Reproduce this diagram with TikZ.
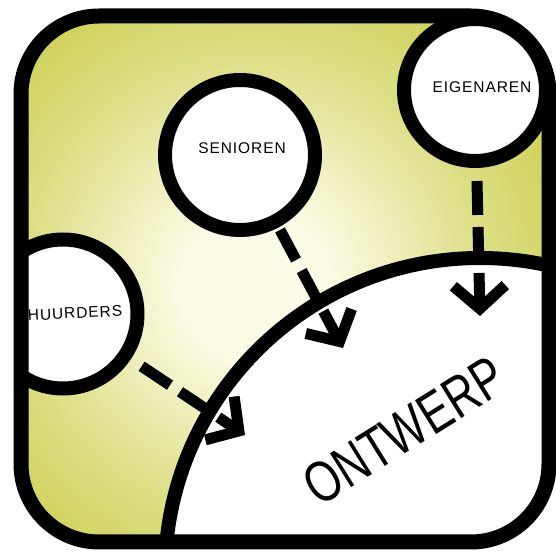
\documentclass[tikz,border=0pt]{standalone}
\usepackage{fontspec}
\setmainfont{Liberation Sans}
\newfontfamily\lblfont[LetterSpace=6]{Liberation Sans}
\usetikzlibrary{arrows.meta}
\definecolor{olijf}{HTML}{C6CA3E}
\definecolor{creme}{HTML}{FCFBE6}
\pgfdeclareradialshading{gloed}{\pgfpoint{0bp}{0bp}}{%
  color(0bp)=(creme); color(4bp)=(creme); color(12bp)=(olijf!55!creme);
  color(21bp)=(olijf); color(50bp)=(olijf)}
\tikzset{
  groep/.style={circle,draw=black,line width=14pt,fill=white,inner sep=0pt},
  etiket/.style={font=\lblfont\fontsize{15.5}{16}\selectfont,inner sep=0pt},
  darr/.style={line width=11pt,dash pattern=on 34pt off 12pt,-{Straight Barb[length=23pt,width=52pt]}},
  kader/.style={line width=15pt,rounded corners=78pt}
}

\begin{document}
\begin{tikzpicture}[x=1pt,y=1pt]
  \useasboundingbox (0,0) rectangle (556,558);
  \begin{scope}
    \clip[rounded corners=78pt] (21,16) rectangle (549,542);
    \shade[shading=gloed] (255,273) circle (460);
    % ontwerp + de drie groepen
    \node[groep,minimum size=630pt] (ontw) at (480,-15) {};
    \node[groep,minimum size=150pt] (sen) at (240,403) {};
    \node[groep,minimum size=142pt] (eig) at (475,468) {};
    \node[groep,minimum size=149pt] (huur) at (63,244) {};
    \node[etiket] (tsen) at (242,410) {SENIOREN};
    \node[etiket] (teig) at (482,471) {EIGENAREN};
    \node[etiket,rotate=3] (thuur) at (75,245) {HUURDERS};
    \node[font=\fontsize{58}{58}\selectfont,rotate=32,inner sep=0pt] (tontw) at (404,127) {\scalebox{0.76}[1]{ONTWERP}};
    % pijlen
    \coordinate (pS) at (343,210);
    \coordinate (pE) at (480,242);
    \coordinate (pH) at (245,123);
    \draw[darr,shorten <=3pt] (sen) -- (pS);
    \draw[darr,shorten <=13pt] (eig) -- (pE);
    \draw[darr,shorten <=13pt] (huur) -- (pH);
  \end{scope}
  \draw[kader] (21,16) rectangle (549,542);
\end{tikzpicture}
\end{document}
